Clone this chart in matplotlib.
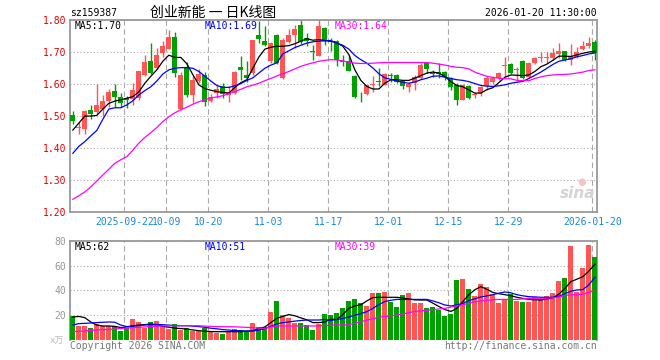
"""
创业新能 (sz159387) 日K线图 复刻
上: K线 + MA5/MA10/MA30, 下: 成交量 + 均量线
"""

import matplotlib
matplotlib.use("Agg")
import matplotlib.pyplot as plt
import numpy as np

plt.rcParams["font.family"] = ["DejaVu Sans Mono", "Noto Sans CJK SC"]
plt.rcParams["axes.unicode_minus"] = False

W, H = 660, 360

CODE = "sz159387"
TITLE = "创业新能 一 日K线图"
TIMESTAMP = "2026-01-20 11:30:00"

# --- 日K数据（88个交易日）---
open_ = [
    1.503, 1.463, 1.460, 1.519, 1.513, 1.523, 1.547, 1.578, 1.560, 1.556,
    1.555, 1.558, 1.629, 1.673, 1.650, 1.699, 1.712, 1.749, 1.522, 1.652,
    1.567, 1.611, 1.629, 1.548, 1.572, 1.593, 1.566, 1.572, 1.653, 1.629,
    1.635, 1.754, 1.735, 1.672, 1.754, 1.619, 1.733, 1.754, 1.785, 1.745,
    1.703, 1.690, 1.777, 1.737, 1.735, 1.674, 1.672, 1.626, 1.564, 1.568,
    1.597, 1.610, 1.598, 1.628, 1.629, 1.610, 1.590, 1.605, 1.618, 1.665,
    1.636, 1.637, 1.637, 1.618, 1.597, 1.552, 1.594, 1.565, 1.571, 1.594,
    1.608, 1.618, 1.658, 1.663, 1.645, 1.673, 1.624, 1.665, 1.683, 1.682,
    1.681, 1.695, 1.703, 1.676, 1.686, 1.709, 1.720, 1.732,
]
high = [
    1.516, 1.482, 1.519, 1.534, 1.600, 1.566, 1.585, 1.600, 1.571, 1.562,
    1.603, 1.641, 1.691, 1.728, 1.713, 1.735, 1.770, 1.765, 1.639, 1.669,
    1.627, 1.647, 1.639, 1.568, 1.597, 1.603, 1.593, 1.640, 1.687, 1.672,
    1.740, 1.798, 1.782, 1.733, 1.756, 1.745, 1.772, 1.787, 1.800, 1.761,
    1.724, 1.803, 1.779, 1.745, 1.740, 1.693, 1.693, 1.628, 1.575, 1.598,
    1.626, 1.651, 1.635, 1.635, 1.631, 1.613, 1.608, 1.629, 1.667, 1.671,
    1.645, 1.666, 1.640, 1.624, 1.605, 1.600, 1.598, 1.577, 1.594, 1.626,
    1.626, 1.639, 1.686, 1.665, 1.655, 1.675, 1.670, 1.684, 1.702, 1.702,
    1.713, 1.728, 1.705, 1.726, 1.716, 1.734, 1.749, 1.739,
]
low = [
    1.474, 1.443, 1.443, 1.491, 1.507, 1.500, 1.529, 1.529, 1.529, 1.525,
    1.535, 1.550, 1.627, 1.633, 1.647, 1.684, 1.709, 1.623, 1.519, 1.560,
    1.542, 1.603, 1.533, 1.543, 1.558, 1.558, 1.543, 1.570, 1.614, 1.608,
    1.630, 1.729, 1.719, 1.666, 1.663, 1.617, 1.729, 1.714, 1.726, 1.719,
    1.677, 1.687, 1.724, 1.703, 1.656, 1.656, 1.640, 1.556, 1.543, 1.566,
    1.577, 1.593, 1.596, 1.608, 1.603, 1.585, 1.576, 1.582, 1.616, 1.634,
    1.624, 1.619, 1.612, 1.582, 1.535, 1.550, 1.553, 1.557, 1.563, 1.581,
    1.602, 1.613, 1.624, 1.633, 1.611, 1.615, 1.620, 1.662, 1.671, 1.665,
    1.676, 1.681, 1.674, 1.660, 1.681, 1.707, 1.713, 1.676,
]
close = [
    1.485, 1.467, 1.516, 1.505, 1.534, 1.547, 1.575, 1.560, 1.540, 1.552,
    1.581, 1.641, 1.670, 1.634, 1.692, 1.720, 1.749, 1.636, 1.629, 1.566,
    1.613, 1.632, 1.545, 1.559, 1.586, 1.568, 1.577, 1.638, 1.645, 1.621,
    1.740, 1.743, 1.724, 1.729, 1.666, 1.740, 1.754, 1.772, 1.733, 1.737,
    1.700, 1.782, 1.735, 1.733, 1.677, 1.669, 1.642, 1.561, 1.562, 1.596,
    1.600, 1.607, 1.632, 1.625, 1.608, 1.593, 1.600, 1.624, 1.660, 1.647,
    1.633, 1.633, 1.624, 1.592, 1.550, 1.597, 1.556, 1.568, 1.590, 1.618,
    1.621, 1.634, 1.661, 1.636, 1.648, 1.618, 1.668, 1.681, 1.686, 1.685,
    1.697, 1.705, 1.676, 1.688, 1.702, 1.720, 1.730, 1.699,
]
# 成交量（万）
volume = [
    19.3, 11.5, 11.5, 9.7, 12.9, 11.5, 11.5, 11.5, 7.5, 9.4,
    17.2, 14.5, 9.9, 14.5, 15.6, 11.5, 9.1, 13.2, 8.3, 9.9,
    7.5, 7.5, 9.9, 7.2, 5.9, 5.1, 6.2, 8.9, 8.1, 6.7,
    13.7, 10.7, 10.7, 22.8, 31.7, 20.1, 18.0, 13.7, 13.7, 12.1,
    8.3, 12.9, 20.9, 20.1, 21.5, 25.8, 31.4, 33.0, 29.5, 27.4,
    37.9, 37.9, 38.7, 30.9, 26.6, 36.2, 37.9, 29.8, 29.8, 26.0,
    26.3, 24.4, 19.6, 20.9, 48.3, 49.1, 41.1, 35.4, 45.1, 43.0,
    36.8, 29.8, 33.0, 36.8, 31.7, 30.6, 30.6, 34.9, 33.0, 35.4,
    37.6, 47.5, 49.9, 75.7, 38.7, 58.0, 76.5, 66.8,
]

# --- 均线---
ma5 = [
    1.456, 1.478, 1.500, 1.500, 1.502, 1.522, 1.540, 1.547, 1.551, 1.556,
    1.561, 1.576, 1.603, 1.625, 1.645, 1.672, 1.691, 1.684, 1.684, 1.664,
    1.630, 1.598, 1.586, 1.581, 1.577, 1.574, 1.572, 1.590, 1.605, 1.614,
    1.650, 1.685, 1.710, 1.716, 1.719, 1.719, 1.721, 1.727, 1.735, 1.743,
    1.738, 1.740, 1.737, 1.735, 1.729, 1.719, 1.693, 1.645, 1.612, 1.593,
    1.585, 1.585, 1.603, 1.614, 1.614, 1.612, 1.612, 1.619, 1.627, 1.635,
    1.638, 1.635, 1.624, 1.608, 1.596, 1.592, 1.582, 1.572, 1.572, 1.583,
    1.589, 1.605, 1.622, 1.629, 1.628, 1.627, 1.629, 1.640, 1.655, 1.663,
    1.675, 1.688, 1.688, 1.687, 1.692, 1.697, 1.701, 1.703,
]
ma10 = [
    1.383, 1.405, 1.420, 1.438, 1.455, 1.490, 1.522, 1.526, 1.526, 1.535,
    1.548, 1.566, 1.580, 1.592, 1.610, 1.632, 1.645, 1.650, 1.652, 1.652,
    1.650, 1.640, 1.625, 1.610, 1.596, 1.590, 1.590, 1.595, 1.602, 1.612,
    1.620, 1.635, 1.650, 1.660, 1.667, 1.695, 1.705, 1.715, 1.722, 1.729,
    1.733, 1.735, 1.736, 1.737, 1.729, 1.722, 1.710, 1.690, 1.677, 1.666,
    1.651, 1.633, 1.620, 1.615, 1.610, 1.606, 1.603, 1.607, 1.614, 1.619,
    1.625, 1.626, 1.622, 1.618, 1.614, 1.612, 1.608, 1.602, 1.596, 1.594,
    1.593, 1.595, 1.598, 1.603, 1.606, 1.609, 1.618, 1.628, 1.638, 1.650,
    1.662, 1.672, 1.676, 1.680, 1.686, 1.690, 1.695, 1.698,
]
ma30 = [
    1.239, 1.250, 1.262, 1.278, 1.296, 1.315, 1.333, 1.352, 1.363, 1.373,
    1.393, 1.415, 1.433, 1.448, 1.464, 1.483, 1.498, 1.510, 1.520, 1.528,
    1.537, 1.545, 1.551, 1.557, 1.560, 1.564, 1.570, 1.577, 1.584, 1.592,
    1.597, 1.603, 1.611, 1.618, 1.626, 1.633, 1.640, 1.648, 1.656, 1.662,
    1.667, 1.672, 1.675, 1.677, 1.676, 1.673, 1.669, 1.666, 1.665, 1.665,
    1.666, 1.667, 1.668, 1.668, 1.668, 1.668, 1.668, 1.668, 1.668, 1.668,
    1.666, 1.663, 1.660, 1.656, 1.653, 1.652, 1.648, 1.638, 1.631, 1.625,
    1.621, 1.619, 1.617, 1.617, 1.612, 1.611, 1.611, 1.618, 1.623, 1.627,
    1.629, 1.630, 1.631, 1.632, 1.635, 1.638, 1.643, 1.645,
]
vol_ma5 = [
    18.5, 19.0, 18.0, 14.5, 12.0, 11.3, 11.3, 11.0, 10.0, 10.5,
    11.5, 12.1, 12.4, 12.9, 12.3, 11.0, 10.3, 9.6, 9.2, 8.8,
    8.1, 7.5, 7.1, 6.8, 6.7, 6.7, 6.7, 6.7, 6.7, 7.0,
    7.5, 9.2, 10.5, 14.0, 17.5, 19.0, 20.5, 19.5, 17.8, 16.3,
    14.0, 14.0, 14.6, 16.8, 16.5, 20.5, 25.5, 27.5, 28.4, 31.5,
    34.2, 34.4, 34.4, 34.4, 34.4, 33.8, 33.0, 32.3, 32.2, 32.2,
    29.7, 27.0, 24.5, 23.0, 25.5, 31.0, 36.5, 40.5, 43.0, 40.8,
    38.3, 37.3, 36.5, 35.7, 34.4, 33.5, 32.7, 32.4, 32.2, 33.0,
    34.0, 37.0, 41.5, 47.0, 49.0, 51.0, 55.5, 61.0,
]
vol_ma10 = [
    12.1, 13.2, 13.4, 13.7, 14.0, 14.3, 14.5, 14.3, 12.0, 10.8,
    11.0, 11.5, 12.1, 12.3, 12.5, 12.3, 12.0, 11.6, 11.5, 11.5,
    11.2, 10.8, 10.2, 9.5, 9.0, 8.4, 8.0, 7.6, 7.4, 7.3,
    7.2, 8.0, 9.2, 11.0, 13.0, 14.0, 14.6, 15.2, 15.7, 16.1,
    16.1, 16.1, 16.5, 15.8, 16.5, 17.3, 18.6, 20.0, 21.3, 22.8,
    25.5, 28.5, 31.0, 32.0, 32.7, 32.7, 32.7, 32.7, 32.7, 32.7,
    31.5, 30.0, 28.2, 27.4, 28.3, 29.5, 31.7, 33.2, 34.7, 35.5,
    36.5, 37.7, 38.7, 38.0, 36.5, 35.6, 34.9, 34.7, 34.4, 34.4,
    34.4, 35.2, 37.3, 39.3, 40.3, 40.6, 44.5, 50.5,
]
vol_ma30 = [
    6.7, 7.0, 7.3, 7.7, 8.1, 8.4, 8.6, 8.9, 9.3, 9.6,
    9.9, 10.2, 10.5, 10.9, 11.2, 11.3, 11.4, 11.4, 11.5, 11.5,
    11.5, 11.5, 11.2, 11.0, 10.8, 10.7, 10.7, 10.6, 10.4, 10.2,
    9.9, 9.5, 9.4, 10.5, 11.3, 11.3, 11.3, 11.3, 11.3, 11.3,
    11.3, 11.4, 11.6, 12.1, 12.1, 12.1, 12.2, 13.5, 14.7, 16.0,
    17.2, 18.3, 18.9, 19.5, 20.1, 21.0, 22.0, 23.0, 23.5, 24.0,
    24.5, 25.0, 25.5, 26.5, 27.5, 28.4, 29.6, 30.9, 31.5, 32.0,
    32.4, 32.7, 32.7, 32.7, 32.7, 33.1, 33.6, 33.6, 33.6, 33.6,
    34.0, 34.6, 35.9, 36.3, 36.6, 37.0, 38.6, 39.5,
]

# 日期刻度（交易日序号）
date_idx = [9, 16, 23, 33, 43, 53, 63, 73, 87]
date_labels = ["2025-09-22", "10-09", "10-20", "11-03", "11-17",
               "12-01", "12-15", "12-29", "2026-01-20"]
price_ticks = [1.20, 1.30, 1.40, 1.50, 1.60, 1.70, 1.80]
vol_ticks = [20, 40, 60, 80]

ma_price_labels = ["MA5:1.70", "MA10:1.69", "MA30:1.64"]
ma_vol_labels = ["MA5:62", "MA10:51", "MA30:39"]

RED = "#ff5555"
GREEN = "#00a000"
FRAME = "#999999"
GRID = "#aaaaaa"
MA_COLORS = ["#000000", "#0000ff", "#ff00ff"]


def fx(x):
    return x / W


def fy(y):
    return 1 - y / H


o = np.array(open_)
c = np.array(close)
hi = np.array(high)
lo = np.array(low)
x = np.arange(len(o))
up = c >= o
colors = np.where(up, RED, GREEN)
grid_x = np.array(date_idx) - 0.4

fig = plt.figure(figsize=(W / 100, H / 100), dpi=100)
ax = fig.add_axes([fx(70.3), fy(211.7), fx(596.7) - fx(70.3), fy(19.5) - fy(211.7)])
axv = fig.add_axes([fx(70.3), fy(340), fx(596.7) - fx(70.3), fy(240.7) - fy(340)])

# --- K线 ---
ax.vlines(x, lo, hi, colors=colors, linewidth=1.0, zorder=2)
body = np.maximum(np.abs(c - o), 0.0025)
ax.bar(x, body, bottom=np.minimum(o, c), width=0.8, color=colors,
       linewidth=0, zorder=3)
for vals, col in zip([ma5, ma10, ma30], MA_COLORS):
    ax.plot(x, vals, color=col, linewidth=0.9, zorder=4)

ax.set_xlim(-0.42, 87.3)
ax.set_ylim(1.20, 1.803)
ax.set_yticks(price_ticks)
ax.set_yticklabels([f"{v:.2f}" for v in price_ticks], color="#e00000", fontsize=7)
ax.set_xticks(grid_x)
ax.set_xticklabels(date_labels, color="#1788d8", fontsize=7)
ax.tick_params(length=0, pad=3)
ax.tick_params(axis="x", pad=4)

# --- 成交量 ---
axv.bar(x, volume, width=0.8, color=colors, linewidth=0, zorder=3)
for vals, col in zip([vol_ma5, vol_ma10, vol_ma30], MA_COLORS):
    axv.plot(x, vals, color=col, linewidth=0.9, zorder=4)
axv.set_xlim(-0.42, 87.3)
axv.set_ylim(0, 80)
axv.set_yticks(vol_ticks)
axv.set_yticklabels([str(v) for v in vol_ticks], color="#999999", fontsize=7)
axv.set_xticks(grid_x)
axv.set_xticklabels([])
axv.tick_params(length=0, pad=3)
axv.spines["bottom"].set_visible(False)

for a in (ax, axv):
    a.set_axisbelow(True)
    a.grid(axis="y", color=GRID, linestyle=(0, (1, 2)), linewidth=0.8)
    a.grid(axis="x", color=GRID, linestyle=(0, (5, 3)), linewidth=0.8)
    for sp in a.spines.values():
        sp.set_color(FRAME)
        sp.set_linewidth(1.3)

# --- 文本 ---
fig.text(fx(70), fy(13), CODE, fontsize=7, va="center", ha="left")
fig.text(fx(213), fy(12.5), TITLE, fontsize=10, va="center", ha="center",
         family=["Noto Sans CJK SC", "DejaVu Sans"])
fig.text(fx(597), fy(13), TIMESTAMP, fontsize=7, va="center", ha="right")

for lbl, col, px in zip(ma_price_labels, MA_COLORS, [75, 205, 335]):
    fig.text(fx(px), fy(26), lbl, color=col, fontsize=7, va="center", ha="left")
for lbl, col, px in zip(ma_vol_labels, MA_COLORS, [75, 205, 335]):
    fig.text(fx(px), fy(246.5), lbl, color=col, fontsize=7, va="center", ha="left")

fig.text(fx(64), fy(341), "x万", color="#bbbbbb", fontsize=6.5, va="center",
         ha="right", family=["DejaVu Sans Mono", "Noto Sans CJK SC"])
fig.text(fx(70), fy(346), "Copyright 2026 SINA.COM", color="#777777",
         fontsize=7, va="center", ha="left")
fig.text(fx(597), fy(346), "http://finance.sina.com.cn", color="#777777",
         fontsize=7, va="center", ha="right")

# sina 水印
fig.text(fx(578), fy(193), "sina", color="#d4d4d4", fontsize=11,
         fontweight="bold", style="italic", va="center", ha="center",
         family="DejaVu Sans")
fig.text(fx(582), fy(182), "●", color="#f3c4c4", fontsize=7,
         va="center", ha="center", family="DejaVu Sans")

fig.savefig("out.png", dpi=100)
plt.close(fig)
